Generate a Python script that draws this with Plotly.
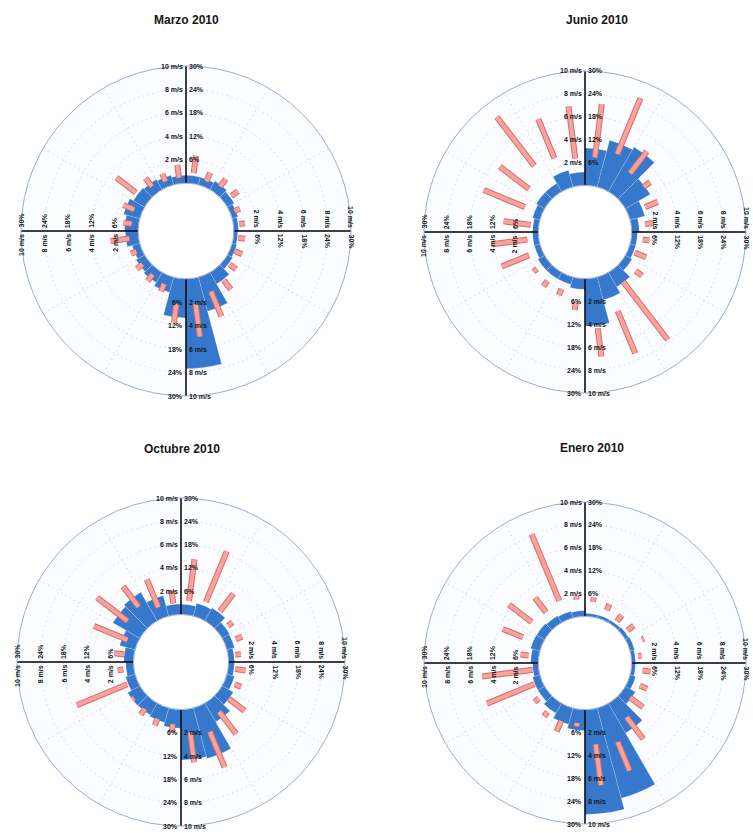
import plotly.graph_objects as go

W, H = 753, 833
HOLE = 0.29

# Sector centres (degrees clockwise from north), 15-degree bins
directions = [7.5, 22.5, 37.5, 52.5, 67.5, 82.5, 97.5, 112.5, 127.5, 142.5, 157.5, 172.5,
              187.5, 202.5, 217.5, 232.5, 247.5, 262.5, 277.5, 292.5, 307.5, 322.5, 337.5, 352.5]

speed_ticks = [2, 4, 6, 8, 10]
speed_labels = ["2 m/s", "4 m/s", "6 m/s", "8 m/s", "10 m/s"]
pct_labels = ["6%", "12%", "18%", "24%", "30%"]

titles = ["Marzo 2010", "Junio 2010", "Octubre 2010", "Enero 2010"]

# Frequency of each direction (%) and wind-speed range per direction (m/s)
marzo_freq = [2.0, 2.0, 2.5, 2.0, 1.5, 1.2, 1.0, 1.2, 1.5, 3.4, 9.0, 23.0,
              10.0, 4.0, 3.0, 2.5, 2.0, 3.3, 3.5, 4.3, 3.3, 3.0, 2.5, 2.0]
marzo_lo = [0.9, 0.5, 0.7, 0.8, 0.4, 0.5, 0.4, 0.4, 0.6, 1.2, 1.5, 2.2,
            2.2, 0.8, 0.6, 0.6, 0.5, 0.8, 0.6, 0.7, 1.3, 0.7, 0.5, 0.5]
marzo_hi = [2.4, 1.3, 1.5, 1.5, 0.9, 1.0, 1.0, 1.1, 1.3, 2.2, 3.8, 5.0,
            3.8, 1.5, 1.3, 1.2, 1.0, 2.4, 1.3, 1.7, 3.4, 1.6, 1.2, 1.6]

junio_freq = [9.8, 12.7, 13.5, 7.5, 4.0, 2.0, 1.5, 1.5, 2.0, 4.4, 6.2, 12.5,
              2.8, 2.0, 2.0, 2.0, 1.5, 1.5, 1.5, 2.0, 2.5, 2.5, 4.5, 3.5]
junio_lo = [2.5, 3.3, 2.4, 2.4, 1.6, 1.2, 1.0, 0.6, 1.5, 1.4, 3.4, 4.4,
            2.1, 1.3, 1.3, 1.2, 1.2, 1.0, 0.7, 1.6, 2.1, 3.2, 2.9, 2.4]
junio_hi = [7.2, 8.6, 4.8, 3.1, 2.8, 2.0, 1.6, 1.7, 2.2, 7.8, 7.4, 6.9,
            2.8, 1.9, 1.9, 1.6, 3.8, 4.1, 3.1, 5.5, 5.3, 8.6, 6.6, 7.0]

octubre_freq = [2.6, 3.4, 3.8, 2.2, 2.0, 1.5, 1.5, 2.0, 3.3, 5.6, 13.5, 13.0,
                4.8, 3.9, 3.5, 3.6, 2.5, 2.0, 2.5, 4.1, 8.0, 8.5, 5.5, 2.7]
octubre_lo = [1.2, 1.5, 1.4, 1.0, 1.0, 0.6, 0.6, 0.9, 1.1, 1.3, 2.4, 2.0,
              1.3, 1.2, 1.0, 1.0, 0.9, 0.9, 0.8, 0.9, 1.7, 1.9, 1.0, 1.0]
octubre_hi = [4.8, 6.2, 3.3, 1.5, 1.6, 1.1, 1.5, 1.5, 2.8, 3.7, 5.7, 4.6,
              2.0, 1.8, 1.6, 1.2, 5.6, 1.4, 1.7, 4.0, 5.0, 4.1, 3.6, 2.1]

enero_freq = [0.8, 0.8, 0.8, 1.0, 1.2, 1.0, 1.0, 1.5, 3.0, 9.0, 24.5, 27.5,
              5.5, 4.4, 3.0, 2.0, 2.0, 1.5, 2.0, 2.5, 2.4, 2.1, 1.8, 1.5]
enero_lo = [1.3, 0.9, 0.5, 0.6, 1.3, 0.6, 1.0, 1.1, 0.9, 1.9, 3.4, 3.1,
            1.2, 1.4, 1.3, 1.0, 0.7, 0.5, 0.9, 1.8, 1.8, 1.5, 1.8, 1.5]
enero_hi = [1.7, 1.5, 1.2, 1.3, 1.5, 0.9, 1.7, 1.8, 2.3, 4.3, 6.1, 6.7,
            1.5, 2.4, 1.8, 1.5, 5.2, 5.0, 1.6, 3.7, 4.3, 3.1, 8.1, 1.8]

series = [
    (marzo_freq, marzo_lo, marzo_hi),
    (junio_freq, junio_lo, junio_hi),
    (octubre_freq, octubre_lo, octubre_hi),
    (enero_freq, enero_lo, enero_hi),
]

# Plot boxes in pixels: left, top, side
boxes = [(21, 66, 330), (424, 71, 322), (17, 498, 328), (424, 502, 322)]
title_xy = [(186, 20), (597, 20), (182, 449), (592, 448)]

BLUE = "#3679cc"
RED_EDGE = "#dc6b63"
RED_FILL = "#f5a39f"
GRID = "#bccbea"
LABEL_FONT = dict(family="Arial", size=7, color="#151515", weight="bold")


def paper(x, y):
    return x / W, 1 - y / H


fig = go.Figure()
subplots = ["polar", "polar2", "polar3", "polar4"]
annotations = []
layout_polars = {}

for i, (freq, lo, hi) in enumerate(series):
    sub = subplots[i]
    # direction frequency: 30 % sits on the 10 m/s ring
    fig.add_trace(go.Barpolar(
        r=[p / 3 for p in freq], theta=directions, width=[15] * len(directions),
        subplot=sub, marker=dict(color=BLUE, line=dict(color="rgba(255,255,255,0.3)", width=0.6)),
        hoverinfo="skip", showlegend=False))

    # wind-speed range bars
    rr, tt = [], []
    for d, a, b in zip(directions, lo, hi):
        rr += [a, b, None]
        tt += [d, d, None]
    fig.add_trace(go.Scatterpolar(r=rr, theta=tt, mode="lines", subplot=sub,
                                  line=dict(color=RED_EDGE, width=6), hoverinfo="skip", showlegend=False))
    fig.add_trace(go.Scatterpolar(r=rr, theta=tt, mode="lines", subplot=sub,
                                  line=dict(color=RED_FILL, width=4), hoverinfo="skip", showlegend=False))

    # cardinal axes
    fig.add_trace(go.Scatterpolar(
        r=[0, 10, None, 0, 10, None, 0, 10, None, 0, 10],
        theta=[0, 0, None, 90, 90, None, 180, 180, None, 270, 270],
        mode="lines", subplot=sub, line=dict(color="black", width=1.5),
        hoverinfo="skip", showlegend=False))

    left, top, side = boxes[i]
    x0, y1 = paper(left, top)
    x1, y0 = paper(left + side, top + side)
    layout_polars[sub] = dict(
        domain=dict(x=[x0, x1], y=[y0, y1]),
        hole=HOLE,
        bgcolor="#fbfcff",
        radialaxis=dict(range=[0, 10], tickvals=[2, 4, 6, 8], showticklabels=False, ticks="",
                        showline=False, gridcolor=GRID, griddash="1px,4px", gridwidth=1),
        angularaxis=dict(rotation=90, direction="clockwise", dtick=30, showticklabels=False,
                         ticks="", showline=True, linecolor="#9babdb", linewidth=1,
                         gridcolor=GRID, griddash="1px,4px"),
    )

    # axis labels along the four cardinal lines
    cx, cy, R = left + side / 2, top + side / 2, side / 2
    for v, sl, pl in zip(speed_ticks, speed_labels, pct_labels):
        rp = R * (HOLE + (1 - HOLE) * v / 10)
        base = dict(xref="paper", yref="paper", showarrow=False, font=LABEL_FONT)
        # north
        x, y = paper(cx, cy - rp)
        annotations.append(dict(base, x=x, y=y, text=sl, xanchor="right", yanchor="middle", xshift=-1))
        annotations.append(dict(base, x=x, y=y, text=pl, xanchor="left", yanchor="middle", xshift=1))
        # south
        x, y = paper(cx, cy + rp)
        annotations.append(dict(base, x=x, y=y, text=pl, xanchor="right", yanchor="middle", xshift=-1))
        annotations.append(dict(base, x=x, y=y, text=sl, xanchor="left", yanchor="middle", xshift=1))
        # west
        x, y = paper(cx - rp, cy)
        annotations.append(dict(base, x=x, y=y, text=pl, textangle=-90, xanchor="center", yanchor="bottom", yshift=1))
        annotations.append(dict(base, x=x, y=y, text=sl, textangle=-90, xanchor="center", yanchor="top", yshift=-1))
        # east
        x, y = paper(cx + rp, cy)
        annotations.append(dict(base, x=x, y=y, text=sl, textangle=90, xanchor="center", yanchor="bottom", yshift=1))
        annotations.append(dict(base, x=x, y=y, text=pl, textangle=90, xanchor="center", yanchor="top", yshift=-1))

    tx, ty = paper(*title_xy[i])
    annotations.append(dict(xref="paper", yref="paper", x=tx, y=ty, text=titles[i], showarrow=False,
                            xanchor="center", yanchor="middle",
                            font=dict(family="Arial", size=12, color="#161616", weight="bold")))

fig.update_layout(
    width=W, height=H,
    margin=dict(l=0, r=0, t=0, b=0),
    paper_bgcolor="white",
    showlegend=False,
    annotations=annotations,
    **layout_polars,
)

fig.write_html("out.html")
